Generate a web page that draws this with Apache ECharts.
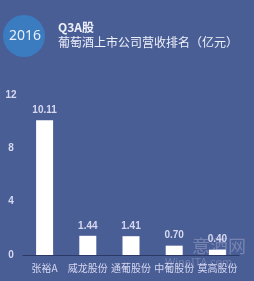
<!DOCTYPE html>
<html>
<head>
<meta charset="utf-8">
<script src="https://cdn.jsdelivr.net/npm/echarts@6/dist/echarts.min.js"></script>
<style>
html, body { margin: 0; padding: 0; background: #4a5e96; }
#main { width: 254px; height: 281px; }
</style>
</head>
<body>
<div id="main"></div>
<script>
var companies = ['张裕A', '威龙股份', '通葡股份', '中葡股份', '莫高股份'];
var revenue = [10.11, 1.44, 1.41, 0.70, 0.40];
var yTicks = [0, 4, 8, 12];

var chart = echarts.init(document.getElementById('main'));

var option = {
    backgroundColor: '#4a5e96',
    graphic: [
        { type: 'circle', shape: { cx: 24, cy: 36, r: 21 }, style: { fill: '#3b7cc0' } },
        { type: 'text', left: 9, top: 29, style: { text: '2016', fill: '#e8eef8', font: '14px "Noto Sans"' } },
        { type: 'text', left: 58, top: 21, style: { text: 'Q3A股', fill: '#eef0fa', font: 'bold 12px "Noto Sans CJK SC"' } },
        { type: 'text', left: 58, top: 36, style: { text: '葡萄酒上市公司营收排名（亿元）', fill: '#eef0fa', font: '12px "Noto Sans CJK SC"' } },
        { type: 'text', left: 192, top: 237, style: { text: '意酒网', fill: 'rgba(200,200,225,0.35)', font: '18px "Noto Sans CJK SC"' } },
        { type: 'text', left: 165, top: 257, style: { text: 'WineITA.com', fill: 'rgba(200,200,225,0.3)', font: '11px "Noto Sans"' } }
    ],
    grid: { left: 23, right: 15, top: 95, bottom: 26 },
    xAxis: {
        type: 'category',
        data: companies,
        axisLine: { lineStyle: { color: '#2c3866', width: 1 } },
        axisTick: { show: false },
        axisLabel: { color: '#d6d8f0', fontSize: 10, margin: 8, interval: 0, fontFamily: 'Noto Sans CJK SC' }
    },
    yAxis: {
        type: 'value',
        min: 0,
        max: 12,
        interval: 4,
        splitLine: { show: false },
        axisLine: { show: false },
        axisTick: { show: false },
        axisLabel: {
            color: '#d6d8f0', fontSize: 10, fontWeight: 'bold', margin: 12, align: 'center',
            formatter: function (v) { return yTicks.indexOf(v) >= 0 ? String(v) : ''; }
        }
    },
    series: [{
        type: 'bar',
        data: revenue,
        barWidth: 17,
        itemStyle: { color: '#ffffff' },
        label: {
            show: true,
            position: 'top',
            color: '#d6d8f0',
            fontSize: 10,
            fontWeight: 'bold',
            distance: 5,
            formatter: function (p) { return p.value.toFixed(2); }
        }
    }]
};

chart.setOption(option);
</script>
</body>
</html>
